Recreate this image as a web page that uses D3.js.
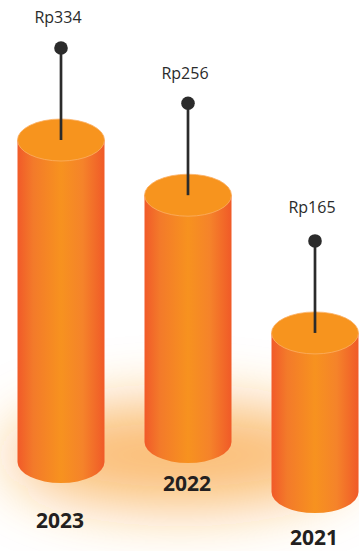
<!DOCTYPE html>
<html>
<head>
<meta charset="utf-8">
<script src="https://cdn.jsdelivr.net/npm/d3@7/dist/d3.min.js"></script>
<style>
  html, body { margin: 0; padding: 0; background: #ffffff; }
  svg { display: block; }
</style>
</head>
<body>
<svg id="chart" width="359" height="551"></svg>
<script>
// Yearly totals, drawn as cylinders with a pin marking each value
const years = ["2023", "2022", "2021"];
const values = [334, 256, 165];
const valueLabels = ["Rp334", "Rp256", "Rp165"];

// Placement of each cylinder's base and its captions
const layout = [
  { base: 462, yearY: 528, labelDy: -25 },
  { base: 442, yearY: 491, labelDy: -24 },
  { base: 492, yearY: 545, labelDy: -28 }
];

const W = 359, H = 551;
const rx = 43.5, ry = 21, pinLen = 92, dotR = 6.8;

const svg = d3.select("#chart");
const defs = svg.append("defs");

// Soft orange glow behind the cylinders
const blur = defs.append("filter").attr("id", "glow")
  .attr("x", "-60%").attr("y", "-150%").attr("width", "220%").attr("height", "400%");
blur.append("feGaussianBlur").attr("stdDeviation", 30);

// Horizontal shading across the cylinder body
const grad = defs.append("linearGradient").attr("id", "body")
  .attr("x1", "0%").attr("x2", "100%").attr("y1", "0%").attr("y2", "0%");
[[0, "#f15a29"], [0.18, "#f37a2a"], [0.5, "#f7921f"], [0.75, "#f5832a"], [1, "#f05a28"]]
  .forEach(([o, c]) => grad.append("stop").attr("offset", o).attr("stop-color", c));

const x = d3.scalePoint().domain(years).range([61, 315]);
const h = d3.scaleLinear().domain([0, 334]).range([0, 322]);

const data = years.map((yr, i) => ({
  year: yr, value: values[i], label: valueLabels[i], ...layout[i],
  cx: x(yr), top: layout[i].base - h(values[i])
}));

svg.append("g").attr("filter", "url(#glow)")
  .selectAll("ellipse").data([0]).join("ellipse")
  .attr("cx", 180).attr("cy", 455).attr("rx", 172).attr("ry", 52)
  .attr("fill", "#f7941d").attr("opacity", 0.62);

const bars = svg.append("g").selectAll("g").data(data).join("g");

// Body with rounded bottom
bars.append("path")
  .attr("fill", "url(#body)")
  .attr("d", d => `M${d.cx - rx},${d.top} L${d.cx - rx},${d.base} ` +
    `A${rx},${ry} 0 0 0 ${d.cx + rx},${d.base} L${d.cx + rx},${d.top} Z`);

// Flat top face
bars.append("ellipse")
  .attr("cx", d => d.cx).attr("cy", d => d.top)
  .attr("rx", rx).attr("ry", ry)
  .attr("fill", "#f7941e")
  .attr("stroke", "#fbb064").attr("stroke-width", 0.8);

// Pins
bars.append("line")
  .attr("x1", d => d.cx).attr("x2", d => d.cx)
  .attr("y1", d => d.top - pinLen).attr("y2", d => d.top)
  .attr("stroke", "#2b2b2b").attr("stroke-width", 2.7);

bars.append("circle")
  .attr("cx", d => d.cx).attr("cy", d => d.top - pinLen).attr("r", dotR)
  .attr("fill", "#2b2b2b");

// Value captions
bars.append("text")
  .attr("x", d => d.cx - 3)
  .attr("y", d => d.top - pinLen + d.labelDy)
  .attr("text-anchor", "middle")
  .attr("font-family", "'Open Sans', sans-serif")
  .attr("font-size", 16)
  .attr("fill", "#2b2b2b")
  .text(d => d.label);

// Year captions
bars.append("text")
  .attr("x", d => d.cx - 1)
  .attr("y", d => d.yearY)
  .attr("text-anchor", "middle")
  .attr("font-family", "'Open Sans', sans-serif")
  .attr("font-weight", 700)
  .attr("font-size", 21)
  .attr("fill", "#231f20")
  .text(d => d.year);
</script>
</body>
</html>
